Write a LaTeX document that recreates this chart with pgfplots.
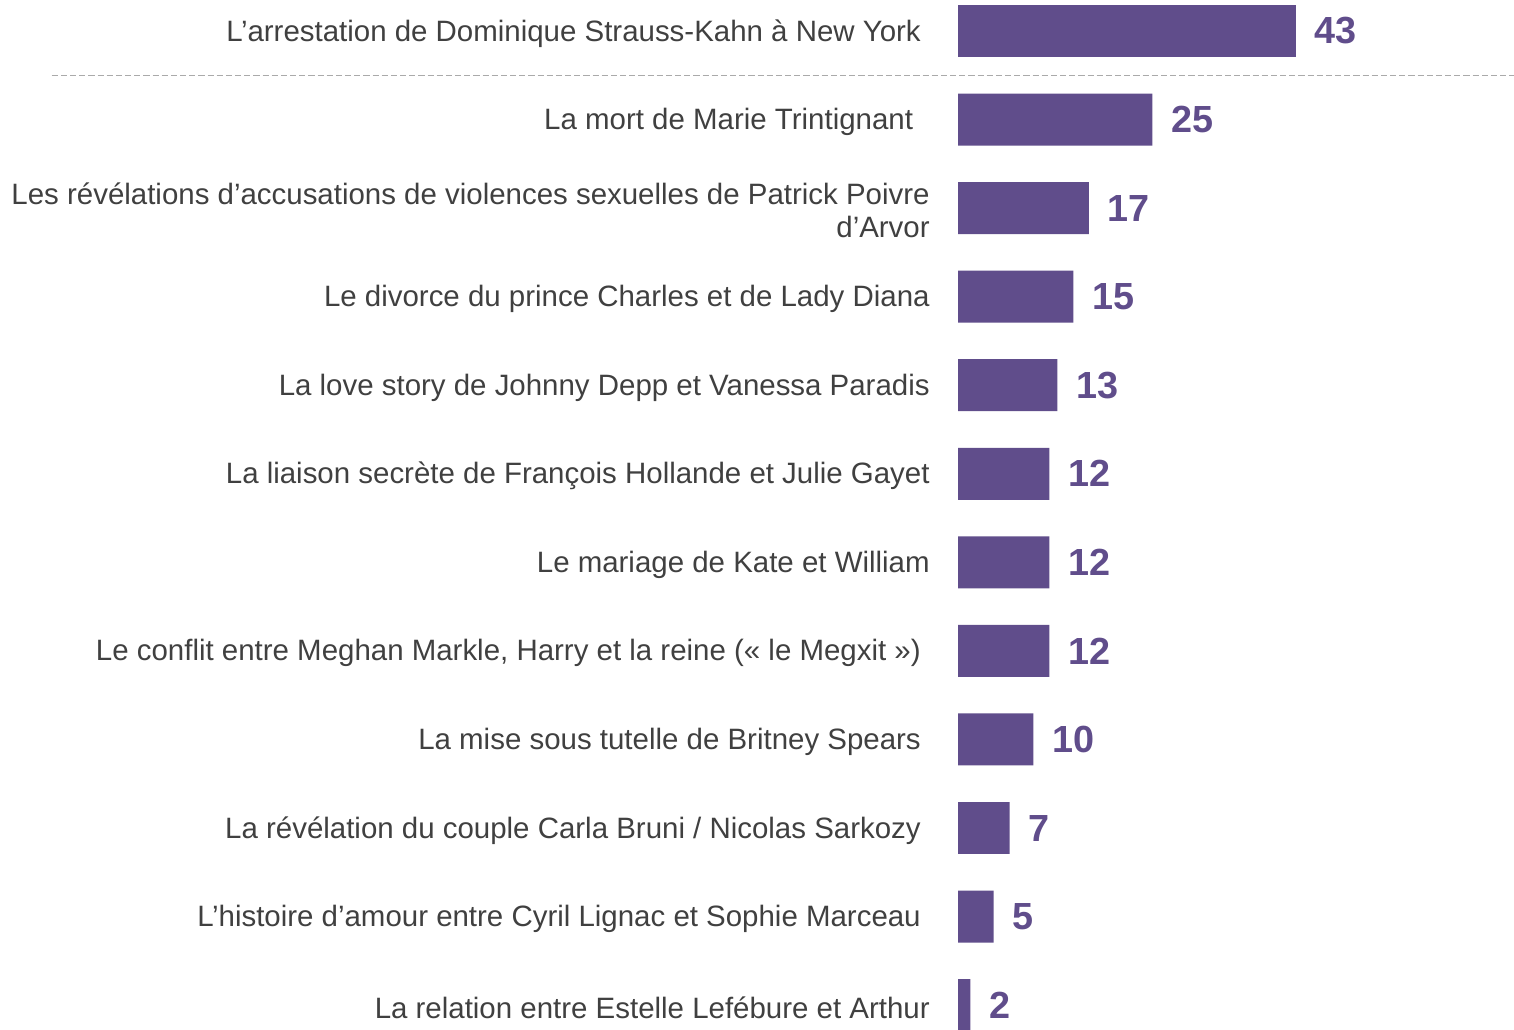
\documentclass[border=0pt]{standalone}
\usepackage{fontspec}
\setmainfont{Liberation Sans}
\usepackage{pgfplots}
\pgfplotsset{compat=1.18}
\definecolor{barcol}{RGB}{96,77,139}
\definecolor{txtcol}{RGB}{64,64,64}
\definecolor{dashcol}{RGB}{170,170,170}
\begin{document}
\begin{tikzpicture}[x=0.36pt,y=0.36pt]
\begin{axis}[
  at={(958*0.36pt,0pt)}, anchor=south west,
  scale only axis, width=556*0.36pt, height=1029*0.36pt,
  xbar, bar width=0.587,
  xmin=0, xmax=70.92,
  ymin=-0.35, ymax=11.27, y dir=reverse,
  axis x line=none, axis y line*=left,
  axis line style={draw=none}, ytick style={draw=none}, major tick length=0pt,
  ytick={0,...,11},
  yticklabels={
    {L’arrestation de Dominique Strauss-Kahn à New York\kern3.2pt},
    {La mort de Marie Trintignant\kern6pt},
    {Les révélations d’accusations de violences sexuelles de Patrick Poivre\\d’Arvor},
    {Le divorce du prince Charles et de Lady Diana},
    {La love story de Johnny Depp et Vanessa Paradis},
    {La liaison secrète de François Hollande et Julie Gayet},
    {Le mariage de Kate et William},
    {Le conflit entre Meghan Markle, Harry et la reine (« le Megxit »)\kern3.2pt},
    {La mise sous tutelle de Britney Spears\kern3.2pt},
    {La révélation du couple Carla Bruni / Nicolas Sarkozy\kern3.2pt},
    {L’histoire d’amour entre Cyril Lignac et Sophie Marceau\kern3.2pt},
    {La relation entre Estelle Lefébure et Arthur}},
  yticklabel style={font=\fontsize{10.6}{12.2}\selectfont, text=txtcol, align=right, inner sep=0pt, xshift=-10pt, yshift=-0.8pt},
  point meta=explicit symbolic,
  nodes near coords,
  every node near coord/.append style={anchor=west, inner sep=0pt, xshift=6.6pt, font=\fontsize{13.6}{14}\selectfont\bfseries, text=barcol},
  clip=false,
]
\addplot[fill=barcol, draw=none] coordinates {
  (43.1,0) [43]
  (24.8,1) [25]
  (16.7,2) [17]
  (14.7,3) [15]
  (12.67,4) [13]
  (11.65,5) [12]
  (11.65,6) [12]
  (11.65,7) [12]
  (9.6,8) [10]
  (6.58,9) [7]
  (4.54,10) [5]
  (1.57,11) [2]
};
\draw[dashcol, line width=0.55pt, dash pattern=on 2.2pt off 1.1pt] (axis cs:-115.6,0.5) -- (axis cs:70.92,0.5);
\end{axis}
\pgfresetboundingbox
\path (0,0) rectangle (1514,1029);
\end{tikzpicture}
\end{document}
